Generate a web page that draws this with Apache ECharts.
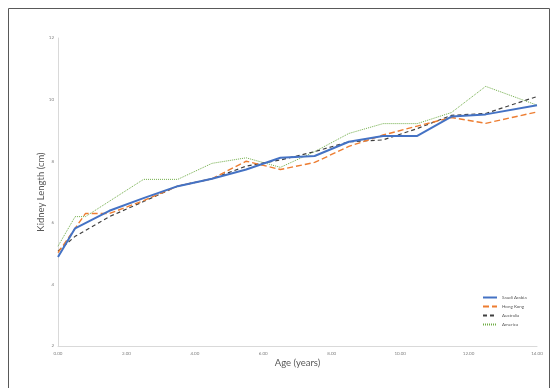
<!DOCTYPE html>
<html>
<head>
<meta charset="utf-8">
<script src="https://cdn.jsdelivr.net/npm/echarts@6/dist/echarts.min.js"></script>
<style>
  html, body { margin: 0; padding: 0; background: #fff; }
  #chart { width: 557px; height: 388px; }
</style>
</head>
<body>
<div id="chart"></div>
<script>
// Age (years) at each measurement and mean kidney length (cm) per cohort
const saudiAges   = [0, 0.5, 1.5, 2.5, 3.5, 4.5, 5.5, 6.5, 7.5, 8.5, 9.5, 10.5, 11.5, 12.5, 14];
const saudiLength = [4.89, 5.82, 6.39, 6.80, 7.19, 7.43, 7.73, 8.11, 8.17, 8.63, 8.82, 8.82, 9.45, 9.52, 9.82];

const hongKongAges   = [0, 0.5, 0.8, 1.5, 2.5, 3.5, 4.5, 5.5, 6.5, 7.5, 8.5, 9.5, 10.5, 11.5, 12.5, 14];
const hongKongLength = [5.03, 5.82, 6.30, 6.30, 6.72, 7.19, 7.43, 8.00, 7.73, 7.96, 8.48, 8.85, 9.14, 9.42, 9.23, 9.60];

const australiaAges   = [0, 0.5, 1.5, 2.5, 3.5, 4.5, 5.5, 6.5, 7.5, 8.5, 9.5, 10.5, 11.5, 12.5, 14];
const australiaLength = [5.08, 5.56, 6.20, 6.69, 7.19, 7.43, 7.84, 8.04, 8.31, 8.63, 8.69, 9.06, 9.49, 9.55, 10.10];

const americaAges   = [0, 0.5, 0.8, 2.5, 3.5, 4.5, 5.5, 6.5, 7.5, 8.5, 9.5, 10.5, 11.5, 12.5, 14];
const americaLength = [5.24, 6.20, 6.20, 7.41, 7.41, 7.93, 8.11, 7.80, 8.31, 8.90, 9.22, 9.22, 9.58, 10.43, 9.82];

const seriesNames = ['Saudi Arabia', 'Hong Kong', 'Australia', 'America'];
const xTicks = [0, 2, 4, 6, 8, 10, 12, 14];
const yTicks = [2, 4, 6, 8, 10, 12];

const pairs = (xs, ys) => xs.map((x, i) => [x, ys[i]]);

const FONT = 'Lato, "Open Sans", sans-serif';
const tickStyle = { color: '#7f7f7f', fontSize: 4.5, fontFamily: FONT };

const chart = echarts.init(document.getElementById('chart'), null, { renderer: 'canvas' });

chart.setOption({
  animation: false,
  backgroundColor: '#ffffff',
  grid: { left: 58, right: 20, top: 38, bottom: 42 },
  xAxis: {
    type: 'value',
    min: xTicks[0],
    max: xTicks[xTicks.length - 1],
    interval: 2,
    name: 'Age (years)',
    nameLocation: 'middle',
    nameGap: 12,
    nameMoveOverlap: false,
    nameTextStyle: { color: '#595959', fontSize: 9.5, fontFamily: FONT },
    axisLine: { lineStyle: { color: '#d9d9d9', width: 1 } },
    axisTick: { show: false },
    splitLine: { show: false },
    axisLabel: Object.assign({ margin: 5, formatter: v => v.toFixed(2) }, tickStyle)
  },
  yAxis: {
    type: 'value',
    min: yTicks[0],
    max: yTicks[yTicks.length - 1],
    interval: 2,
    name: 'Kidney Length (cm)',
    nameLocation: 'middle',
    nameGap: 12,
    nameMoveOverlap: false,
    nameTextStyle: { color: '#595959', fontSize: 9.5, fontFamily: FONT },
    axisLine: { show: true, lineStyle: { color: '#d9d9d9', width: 1 } },
    axisTick: { show: false },
    splitLine: { show: false },
    axisLabel: Object.assign({ margin: 4, hideOverlap: false }, tickStyle)
  },
  legend: {
    show: true,
    orient: 'vertical',
    left: 482,
    top: 295,
    padding: 0,
    itemWidth: 14,
    itemHeight: 6,
    itemGap: 4,
    itemStyle: { opacity: 0 },
    textStyle: { color: '#595959', fontSize: 4.5, fontFamily: FONT },
    data: seriesNames
  },
  series: [
    {
      name: seriesNames[0], type: 'line', symbol: 'none', z: 4,
      data: pairs(saudiAges, saudiLength),
      itemStyle: { color: '#4472c4' },
      lineStyle: { color: '#4472c4', width: 2 }
    },
    {
      name: seriesNames[1], type: 'line', symbol: 'none', z: 3,
      data: pairs(hongKongAges, hongKongLength),
      itemStyle: { color: '#ed7d31' },
      lineStyle: { color: '#ed7d31', width: 1.4, type: [6, 3] }
    },
    {
      name: seriesNames[2], type: 'line', symbol: 'none', z: 2,
      data: pairs(australiaAges, australiaLength),
      itemStyle: { color: '#404040' },
      lineStyle: { color: '#404040', width: 1.2, type: [4, 3] }
    },
    {
      name: seriesNames[3], type: 'line', symbol: 'none', z: 1,
      data: pairs(americaAges, americaLength),
      itemStyle: { color: '#70ad47' },
      lineStyle: { color: '#70ad47', width: 1, type: [1, 1] }
    }
  ],
  graphic: [
    {
      type: 'polyline',
      silent: true,
      shape: { points: [[8.5, 400], [8.5, 8.5], [549.5, 8.5], [549.5, 400]] },
      style: { stroke: '#595959', lineWidth: 1, fill: null }
    }
  ]
});
</script>
</body>
</html>
